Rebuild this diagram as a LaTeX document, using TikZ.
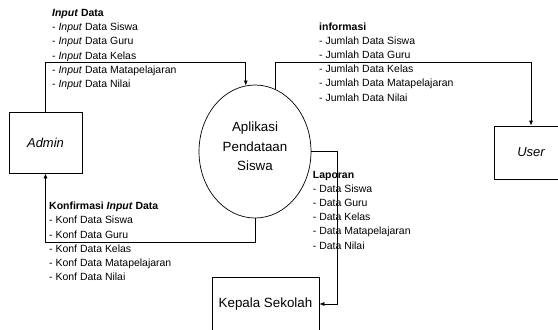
\documentclass[tikz,border=0pt]{standalone}
\usepackage{fontspec}
\setmainfont{Liberation Sans}
\usetikzlibrary{arrows.meta,shapes.geometric,positioning,calc}

\tikzset{
  entity/.style={draw, rectangle, inner sep=0pt, line width=0.7bp,
    font=\fontsize{13}{15}\selectfont\itshape},
  process/.style={draw, ellipse, inner sep=0pt, line width=0.7bp,
    minimum width=112bp, minimum height=133bp, align=center,
    font=\fontsize{13.4}{19.5}\selectfont},
  flow/.style={draw, line width=0.7bp, -{Latex[length=5bp,width=4bp]}},
  flowlabel/.style={anchor=north west, inner sep=0pt, align=left,
    font=\fontsize{10.5}{14.2}\selectfont}
}

\begin{document}
\begin{tikzpicture}[x=1bp,y=-1bp]
	\useasboundingbox (0,0) rectangle (558,329);

	% entities and process
	\node[entity, minimum width=73bp, minimum height=61bp] (admin) at (45.5,142.5) {Admin};
	\node[entity, minimum width=73bp, minimum height=53bp] (user) at (531,152.5) {User};
	\node[entity, minimum width=107bp, minimum height=54bp, font=\fontsize{13.4}{15}\selectfont] (kepala) at (265.5,304) {Kepala Sekolah};
	\node[process] (app) at (255,151.5) {Aplikasi\\Pendataan\\Siswa\rule[-10bp]{0pt}{10bp}};

	% data flows
	\draw[flow] (admin.north) |- ([yshift=23bp]app.98) -- (app.98);
	\draw[flow] (app.72) -- (app.72 |- 0,62) -| (user.north);
	\draw[flow] (app.south) -- (app.south |- 0,242) -| (admin.south);
	\draw[flow] (app.east) -| ([xshift=18bp]kepala.east) -- (kepala.east);

	% flow labels
	\node[flowlabel] (inputlbl) at (52,9.3) {\textbf{\textit{Input} Data}\\
		- \textit{Input} Data Siswa\\
		- \textit{Input} Data Guru\\
		- \textit{Input} Data Kelas\\
		- \textit{Input} Data Matapelajaran\\
		- \textit{Input} Data Nilai};
	\node[flowlabel] (infolbl) at (319,22.5) {\textbf{informasi}\\
		- Jumlah Data Siswa\\
		- Jumlah Data Guru\\
		- Jumlah Data Kelas\\
		- Jumlah Data Matapelajaran\\
		- Jumlah Data Nilai};
	\node[flowlabel] (konflbl) at (49,202) {\textbf{Konfirmasi \textit{Input} Data}\\
		- Konf Data Siswa\\
		- Konf Data Guru\\
		- Konf Data Kelas\\
		- Konf Data Matapelajaran\\
		- Konf Data Nilai};
	\node[flowlabel] (laporanlbl) at (312.7,171) {\textbf{Laporan}\\
		- Data Siswa\\
		- Data Guru\\
		- Data Kelas\\
		- Data Matapelajaran\\
		- Data Nilai};
\end{tikzpicture}
\end{document}
